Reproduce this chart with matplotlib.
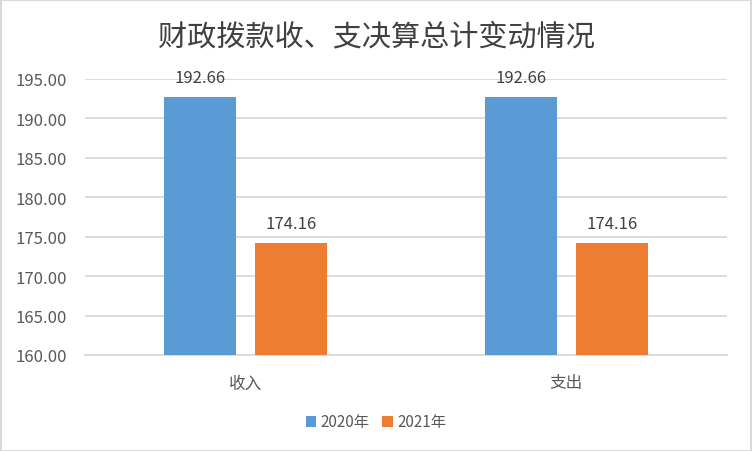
import matplotlib.pyplot as plt
from matplotlib.patches import Rectangle
import numpy as np

plt.rcParams['font.family'] = ['Noto Sans CJK SC', 'DejaVu Sans']

title = "财政拨款收、支决算总计变动情况"
categories = ["收入", "支出"]
series_names = ["2020年", "2021年"]
values_2020 = [192.66, 192.66]
values_2021 = [174.16, 174.16]
colors = ["#5b9bd5", "#ed7d31"]
yticks = [160, 165, 170, 175, 180, 185, 190, 195]

fig = plt.figure(figsize=(7.52, 4.52), dpi=100)
ax = fig.add_axes([85 / 752, 1 - 356 / 452, 642 / 752, 276 / 452])

x = np.arange(len(categories))
width = 0.224
offset = 0.1417
for vals, name, color, off in [(values_2020, series_names[0], colors[0], -offset),
                               (values_2021, series_names[1], colors[1], offset)]:
    bars = ax.bar(x + off, [v - yticks[0] for v in vals], width, bottom=yticks[0],
                  color=color, label=name, zorder=3)
    for b, v in zip(bars, vals):
        ax.text(b.get_x() + b.get_width() / 2, v + 1.4, f"{v:.2f}", ha="center",
                va="bottom", fontsize=12, color="#404040", clip_on=False)

ax.set_xlim(-0.5, 1.5)
ax.set_ylim(160, 195)
ax.set_yticks(yticks)
ax.set_yticklabels([f"{t:.2f}" for t in yticks])
ax.set_xticks(x)
ax.set_xticklabels(categories)
ax.tick_params(axis="both", length=0, labelsize=12, labelcolor="#595959")
ax.tick_params(axis="x", pad=14)
ax.tick_params(axis="y", pad=13)
ax.grid(axis="y", color="#d9d9d9", linewidth=1.3, zorder=0)
for s in ["top", "right", "left"]:
    ax.spines[s].set_visible(False)
ax.spines["bottom"].set_color("#d9d9d9")
ax.spines["bottom"].set_linewidth(1.3)

fig.text(376 / 752, 1 - 37 / 452, title, ha="center", va="center", fontsize=21,
         color="#404040")
fig.legend(loc="center", bbox_to_anchor=(376 / 752, 1 - 423 / 452), ncol=2,
           frameon=False, fontsize=11, handlelength=0.7, handleheight=0.7,
           handletextpad=0.3, columnspacing=0.8, labelcolor="#595959")

fig.patches.append(Rectangle((0.5 / 752, 0.5 / 452), 1 - 1.5 / 752, 1 - 1.5 / 452,
                             transform=fig.transFigure, fill=False,
                             edgecolor="#d9d9d9", linewidth=1.5))

fig.savefig("out.png", dpi=100)
